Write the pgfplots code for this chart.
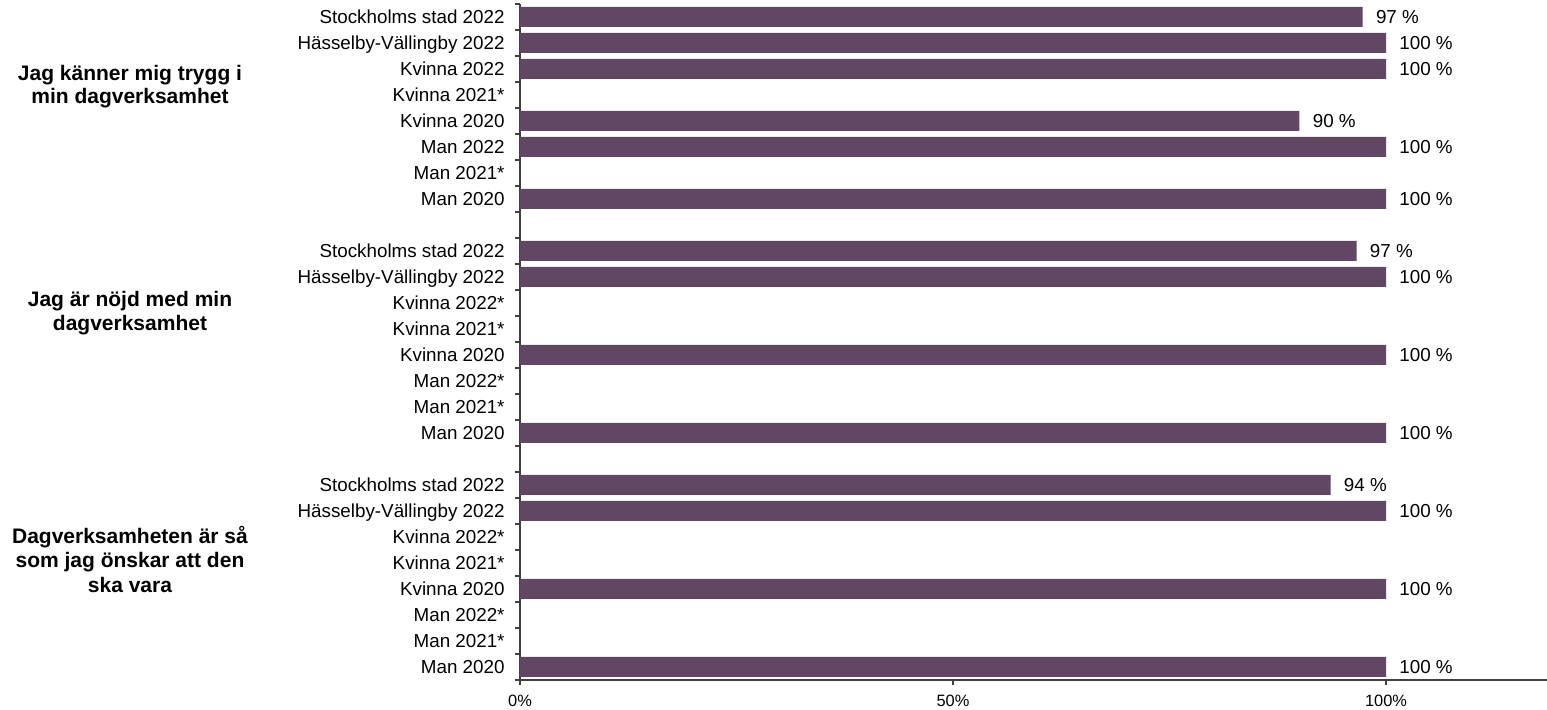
\documentclass[border=0pt]{standalone}
\usepackage{pgfplots}
\pgfplotsset{compat=1.18}
\usepackage{fontspec}
\setmainfont{Liberation Sans}
\definecolor{barc}{HTML}{614763}
\definecolor{axc}{HTML}{404040}
\begin{document}
\begin{tikzpicture}
\begin{axis}[
  at={(0,0)}, anchor=south west,
  scale only axis, width=513.5pt, height=338pt,
  xmin=0, xmax=118.59, ymin=-0.5, ymax=25.5, y dir=reverse,
  axis x line*=bottom, axis y line*=left,
  axis line style={axc, line width=0.6pt},
  tick align=outside,
  major tick length=0pt, minor tick length=2.5pt,
  minor tick style={axc, line width=0.6pt},
  xtick={0,50,100}, xticklabels={0\%,50\%,100\%},
  minor xtick={0,50,100},
  ytick={0,...,25},
  minor ytick={-0.5,0.5,...,25.5},
  yticklabels={Stockholms stad 2022,Hässelby-Vällingby 2022,Kvinna 2022,Kvinna 2021*,Kvinna 2020,Man 2022,Man 2021*,Man 2020,{},
    Stockholms stad 2022,Hässelby-Vällingby 2022,Kvinna 2022*,Kvinna 2021*,Kvinna 2020,Man 2022*,Man 2021*,Man 2020,{},
    Stockholms stad 2022,Hässelby-Vällingby 2022,Kvinna 2022*,Kvinna 2021*,Kvinna 2020,Man 2022*,Man 2021*,Man 2020},
  yticklabel style={font=\fontsize{9.4}{11}\selectfont, anchor=base east, inner sep=0pt, xshift=-7.5pt, yshift=-3.4pt},
  xticklabel style={font=\fontsize{8.2}{10}\selectfont, anchor=base, inner sep=0pt, yshift=-13.5pt},
  xbar, bar width=10pt,
  point meta=explicit symbolic,
  nodes near coords={\pgfplotspointmeta~\%},
  every node near coord/.append style={font=\fontsize{9.4}{11}\selectfont, anchor=base west, inner sep=0pt, xshift=6.5pt, yshift=-3.4pt, text=black},
  clip=false,
]
\addplot[fill=barc, draw=none] table[x=v, y=p, meta=m] {
v p m
97.3 0 97
100 1 100
100 2 100
90 4 90
100 5 100
100 7 100
96.6 9 97
100 10 100
100 13 100
100 16 100
93.6 18 94
100 19 100
100 22 100
100 25 100
};
\begin{scope}[every node/.style={font=\fontsize{10.5}{12}\selectfont\bfseries, anchor=base, inner sep=0pt, xshift=-195pt}]
\node at (axis cs:0,2.44) {Jag känner mig trygg i};
\node at (axis cs:0,3.33) {min dagverksamhet};
\node at (axis cs:0,11.15) {Jag är nöjd med min};
\node at (axis cs:0,12.04) {dagverksamhet};
\node at (axis cs:0,20.25) {Dagverksamheten är så};
\node at (axis cs:0,21.19) {som jag önskar att den};
\node at (axis cs:0,22.13) {ska vara};
\end{scope}
\end{axis}
\pgfresetboundingbox
\path[use as bounding box] (-260pt,-15pt) rectangle (513.5pt,340pt);
\end{tikzpicture}
\end{document}
